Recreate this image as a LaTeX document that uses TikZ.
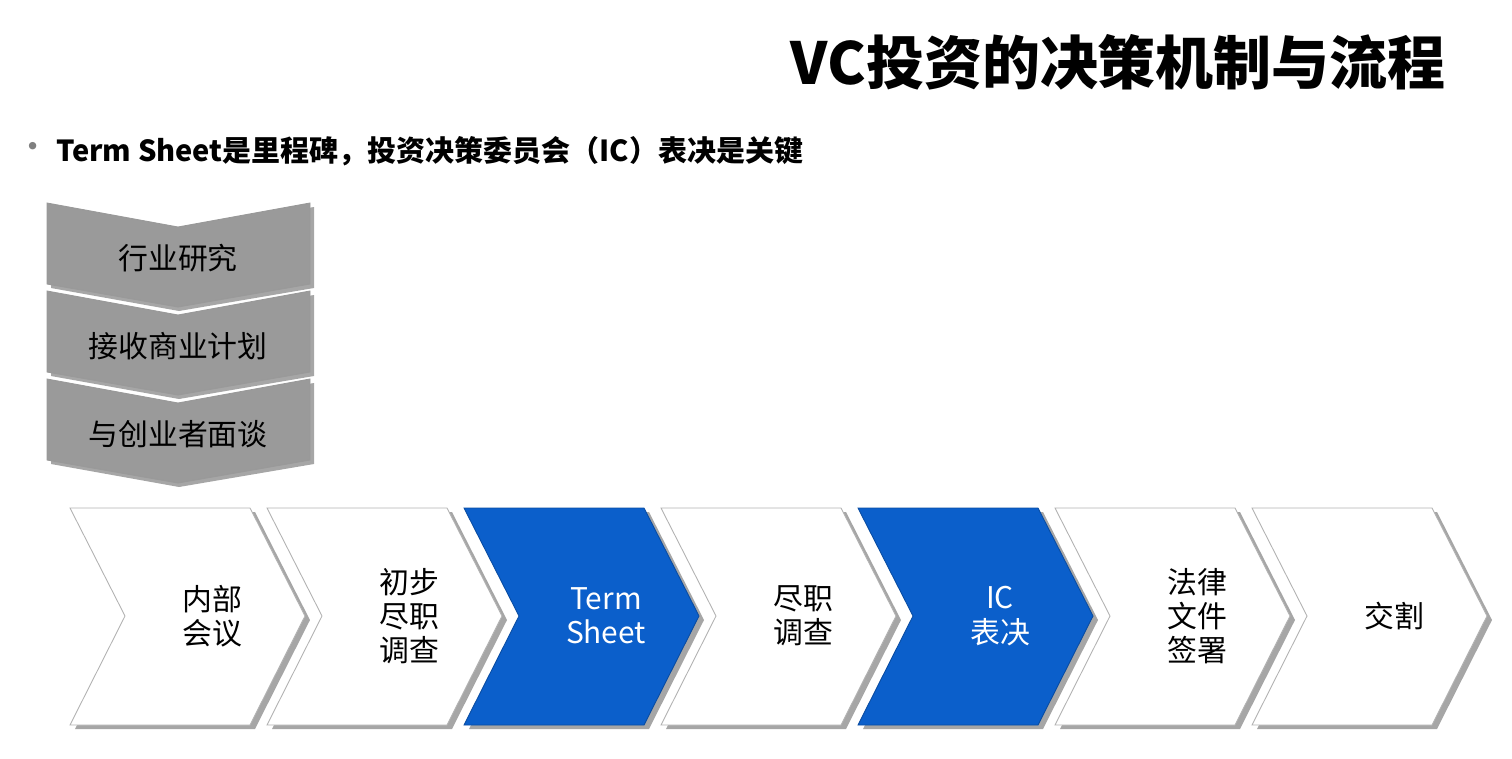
\documentclass[tikz,border=0pt]{standalone}
\usepackage{fontspec}
\setmainfont{Noto Sans CJK SC}
\definecolor{icblue}{HTML}{0B5FCB}
\definecolor{stepgray}{HTML}{9A9A9A}

\tikzset{
    chevshadow/.style={fill=gray!70,draw=none},
    chevwhite/.style={fill=white,draw=gray!60,line width=0.5pt},
    chevblue/.style={fill=icblue,draw=icblue!80!black,line width=0.5pt},
    chevgray/.style={fill=stepgray,draw=gray!80,line width=0.5pt},
    steptext/.style={align=center,font=\fontsize{17}{19.5}\selectfont,inner sep=0pt}
}

\begin{document}
\begin{tikzpicture}[x=0.02cm,y=-0.02cm]
    \useasboundingbox (0,0) rectangle (1512,758);

    % title
    \node[anchor=east,font=\bfseries\fontsize{33}{40}\selectfont] (title) at (1452,62) {VC投资的决策机制与流程};
    \node[text=gray,font=\fontsize{20}{20}\selectfont] (dot) at (33,151) {•};
    \node[anchor=west,font=\bfseries\fontsize{16.5}{20}\selectfont] (sub) at (50,151) {Term Sheet是里程碑，投资决策委员会（IC）表决是关键};

    % vertical steps
    \foreach \i/\txt in {0/行业研究,1/接收商业计划,2/与创业者面谈}{
        \pgfmathsetmacro{\t}{203+88*\i}
        \fill[chevshadow] (51,\t+4) -- (179,\t+28) -- (314,\t+4) -- (314,\t+85) -- (179,\t+108) -- (51,\t+85) -- cycle;
        \draw[chevgray] (47,\t) -- (178,\t+24) -- (310,\t) -- (310,\t+81) -- (178,\t+104) -- (47,\t+81) -- cycle;
        \node[steptext] (v\i) at (178,\t+55) {\txt};
    }

    % horizontal steps
    \foreach \i/\txt/\sty/\tc in {0/内部\\会议/chevwhite/black,1/初步\\尽职\\调查/chevwhite/black,
        2/Term\\Sheet/chevblue/white,3/尽职\\调查/chevwhite/black,4/IC\\表决/chevblue/white,
        5/法律\\文件\\签署/chevwhite/black,6/交割/chevwhite/black}{
        \pgfmathsetmacro{\l}{70+197*\i}
        \fill[chevshadow] (\l+5,512) -- (\l+185,512) -- (\l+240,620) -- (\l+185,729) -- (\l+5,729) -- (\l+60,620) -- cycle;
        \draw[\sty] (\l,508) -- (\l+180,508) -- (\l+235,616) -- (\l+180,725) -- (\l,725) -- (\l+55,616) -- cycle;
        \node[steptext,text=\tc] (h\i) at (\l+142,616) {\txt};
    }
\end{tikzpicture}
\end{document}
